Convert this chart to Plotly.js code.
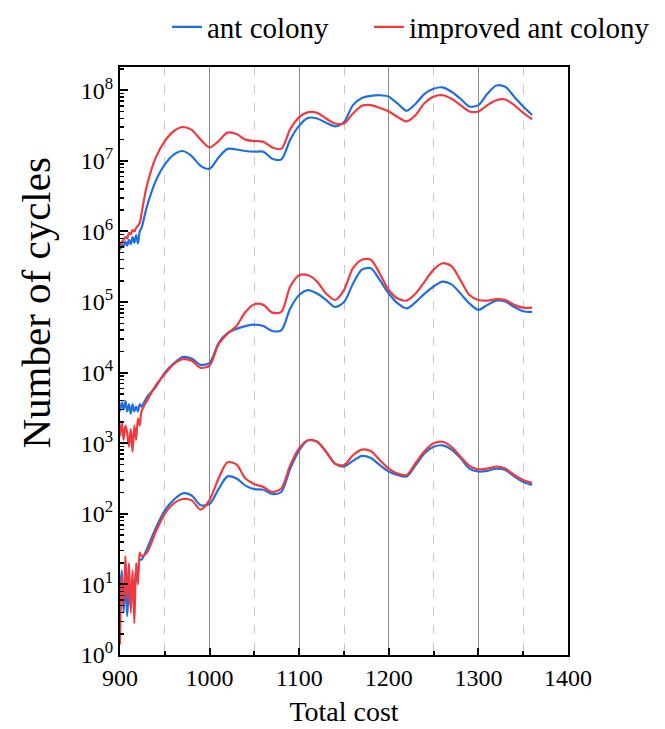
<!DOCTYPE html>
<html>
<head>
<meta charset="utf-8">
<script src="https://cdn.plot.ly/plotly-3.0.1.min.js"></script>
<style>html,body{margin:0;padding:0;background:#fff;}#chart{width:665px;height:729px;}</style>
</head>
<body>
<div id="chart"></div>
<script>
const totalCost = [900,902,904,906,908,910,912,914,916,918,920,922,924,
  930,940,950,960,970,980,990,1000,
  1010,1020,1030,1040,1050,1060,1070,1080,1090,1100,
  1110,1120,1130,1140,1150,1160,1170,1180,1190,1200,
  1210,1220,1230,1240,1250,1260,1270,1280,1290,1300,
  1310,1320,1330,1340,1350,1360];

const antTop = [5.50e5,6.61e5,6.03e5,7.24e5,6.31e5,7.59e5,6.61e5,8.32e5,6.92e5,8.91e5,6.76e5,1.0e6,1.12e6,
  2.24e6,5.25e6,8.91e6,1.23e7,1.38e7,1.17e7,8.51e6,7.76e6,
  1.12e7,1.48e7,1.45e7,1.38e7,1.35e7,1.35e7,1.07e7,1.05e7,2.0e7,3.16e7,
  4.07e7,3.98e7,3.47e7,3.09e7,3.55e7,6.17e7,7.76e7,8.32e7,8.51e7,8.13e7,
  6.46e7,5.13e7,6.46e7,8.91e7,1.05e8,1.10e8,9.55e7,7.59e7,5.89e7,6.17e7,
  8.91e7,1.17e8,1.12e8,8.13e7,5.89e7,4.47e7];
const impTop = [5.75e5,7.08e5,7.59e5,8.32e5,7.94e5,9.55e5,9.12e5,1.05e6,1.0e6,1.12e6,1.20e6,1.32e6,1.78e6,
  4.47e6,1.12e7,1.91e7,2.63e7,3.02e7,2.75e7,2.0e7,1.55e7,
  1.91e7,2.51e7,2.40e7,2.0e7,1.91e7,1.86e7,1.55e7,1.48e7,2.82e7,4.17e7,
  4.90e7,4.79e7,3.98e7,3.39e7,3.39e7,4.68e7,6.03e7,6.17e7,5.62e7,5.01e7,
  4.17e7,3.63e7,4.47e7,6.61e7,8.13e7,8.51e7,7.59e7,6.17e7,5.01e7,5.01e7,
  6.17e7,7.24e7,7.41e7,6.17e7,4.79e7,3.89e7];

const antMid = [2.82e3,3.80e3,3.02e3,3.98e3,2.82e3,3.55e3,2.63e3,3.55e3,2.82e3,3.31e3,2.82e3,3.55e3,3.31e3,
  4.47e3,6.31e3,1.0e4,1.35e4,1.66e4,1.58e4,1.29e4,1.38e4,
  2.63e4,3.63e4,4.17e4,4.57e4,4.79e4,4.57e4,3.89e4,3.98e4,8.13e4,1.26e5,
  1.48e5,1.32e5,1.07e5,8.51e4,1.0e5,1.82e5,2.88e5,3.02e5,2.04e5,1.32e5,
  9.55e4,8.13e4,1.0e5,1.32e5,1.66e5,1.95e5,1.78e5,1.32e5,9.55e4,7.76e4,
  9.12e4,1.05e5,1.02e5,8.51e4,7.41e4,7.24e4];
const impMid = [1.26e3,2.0e3,1.12e3,1.78e3,1.41e3,8.91e2,1.58e3,7.59e2,1.78e3,1.12e3,2.24e3,1.78e3,2.82e3,
  3.98e3,6.61e3,9.55e3,1.32e4,1.55e4,1.48e4,1.17e4,1.26e4,
  2.51e4,3.55e4,4.57e4,7.24e4,9.33e4,9.12e4,7.08e4,7.24e4,1.66e5,2.40e5,
  2.40e5,1.95e5,1.32e5,1.07e5,1.48e5,3.02e5,3.98e5,3.98e5,2.51e5,1.48e5,
  1.12e5,1.05e5,1.32e5,1.95e5,2.88e5,3.55e5,3.24e5,2.04e5,1.26e5,1.07e5,
  1.05e5,1.10e5,1.07e5,9.12e4,8.32e4,8.32e4];

const antLow = [7.94,15.8,3.98,12.6,3.55,10,5.01,12.6,6.31,15.8,14.1,22.4,22.4,
  31.6,63.1,112,158,195,182,132,138,
  224,339,316,251,224,219,191,204,437,794,
  1100,1050,759,513,468,562,661,617,490,398,
  355,339,490,724,891,933,813,617,437,398,
  407,437,417,339,282,257];
const impLow = [1.41,12.6,5.01,25.1,6.31,20.0,3.98,15.8,2.82,20.0,10,28.2,25.1,
  28.2,56.2,100,141,162,155,115,158,
  316,537,501,316,263,240,204,229,490,851,
  1100,1050,759,513,490,676,813,776,575,437,
  372,355,525,776,1000,1050,891,646,479,427,
  437,468,437,355,302,275];

const seriesNames = ['ant colony', 'improved ant colony'];
const yTickVals = [1,10,100,1e3,1e4,1e5,1e6,1e7,1e8];
const yTickText = ['10<sup>0</sup>','10<sup>1</sup>','10<sup>2</sup>','10<sup>3</sup>','10<sup>4</sup>','10<sup>5</sup>','10<sup>6</sup>','10<sup>7</sup>','10<sup>8</sup>'];

const BLUE = '#1f6fe0', RED = '#f23a3e';
const FONT = 'Liberation Serif, Times New Roman, serif';

function tr(y, name, color, show, lg) {
  return {x: totalCost, y: y, type: 'scatter', mode: 'lines', name: name,
    legendgroup: name, showlegend: show, legend: lg,
    line: {color: color, width: 2.2, shape: 'spline', smoothing: 0.8}};
}
const data = [
  tr(antTop, seriesNames[0], BLUE, true, 'legend'),
  tr(antMid, seriesNames[0], BLUE, false, 'legend'),
  tr(antLow, seriesNames[0], BLUE, false, 'legend'),
  tr(impTop, seriesNames[1], RED, true, 'legend2'),
  tr(impMid, seriesNames[1], RED, false, 'legend2'),
  tr(impLow, seriesNames[1], RED, false, 'legend2')
];

const legFont = {family: FONT, size: 29, color: '#000'};
const layout = {
  width: 665, height: 729,
  margin: {l: 120, r: 97, t: 67, b: 74},
  paper_bgcolor: '#fff', plot_bgcolor: '#fff',
  font: {family: FONT, color: '#000', size: 24},
  showlegend: true,
  legend: {orientation: 'h', xref: 'container', yref: 'container', x: 167/665, xanchor: 'left', y: 1 - 27/729, yanchor: 'middle',
    font: legFont, bgcolor: 'rgba(0,0,0,0)'},
  legend2: {orientation: 'h', xref: 'container', yref: 'container', x: 369/665, xanchor: 'left', y: 1 - 27/729, yanchor: 'middle',
    font: legFont, bgcolor: 'rgba(0,0,0,0)'},
  xaxis: {
    range: [900, 1400], dtick: 100, tick0: 900,
    showline: true, linecolor: '#000', linewidth: 2, mirror: true,
    ticks: 'inside', ticklen: 7, tickwidth: 2, tickcolor: '#000',
    showgrid: true, gridcolor: '#8a8a8a', gridwidth: 1, zeroline: false,
    tickfont: {family: FONT, size: 24, color: '#000'},
    minor: {dtick: 50, ticks: 'inside', ticklen: 4, tickwidth: 2, tickcolor: '#000', showgrid: true, gridcolor: '#c8c8c8', griddash: 'dash', gridwidth: 1},
    title: {text: 'Total cost', font: {family: FONT, size: 28, color: '#000'}, standoff: 12}
  },
  yaxis: {
    type: 'log', range: [0, 8.33],
    tickvals: yTickVals, ticktext: yTickText,
    showline: true, linecolor: '#000', linewidth: 2, mirror: true,
    ticks: 'inside', ticklen: 8, tickwidth: 2, tickcolor: '#000',
    showgrid: false, zeroline: false,
    tickfont: {family: FONT, size: 24, color: '#000'},
    minor: {dtick: 'D1', ticks: 'inside', ticklen: 4, tickwidth: 1.5, tickcolor: '#000', showgrid: false}
  },
  annotations: [{
    text: 'Number of cycles', textangle: -90, showarrow: false,
    xref: 'paper', yref: 'paper', x: -0.188, y: 0.599, xanchor: 'center', yanchor: 'middle',
    font: {family: FONT, size: 41, color: '#000'}
  }]
};

Plotly.newPlot('chart', data, layout, {displayModeBar: false, staticPlot: true});
</script>
</body>
</html>
